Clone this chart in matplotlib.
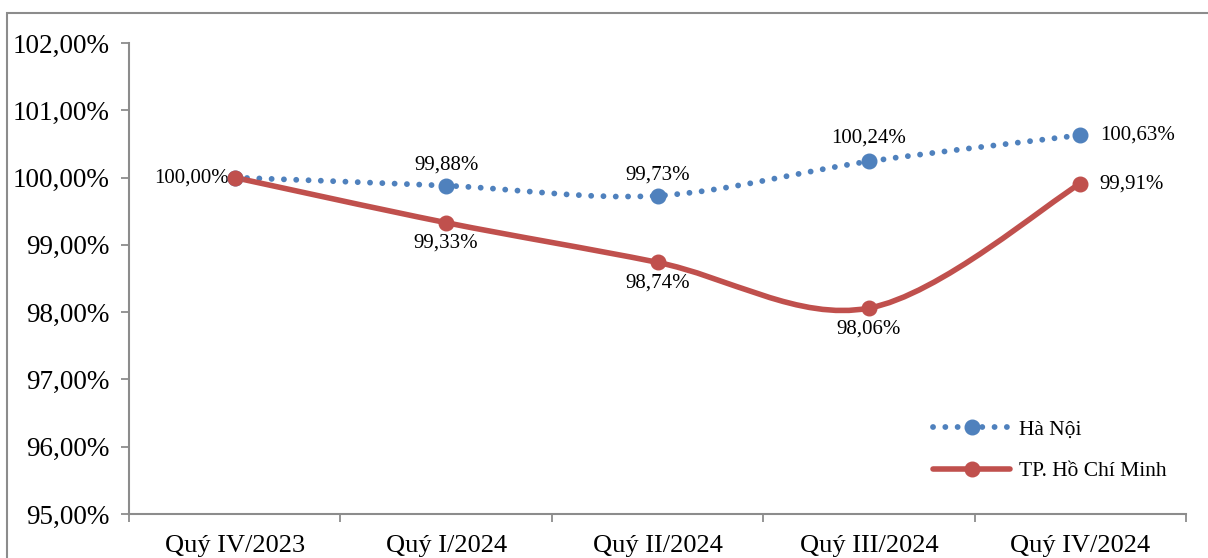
import matplotlib
matplotlib.use('Agg')
import matplotlib.pyplot as plt
from matplotlib.path import Path
from matplotlib.patches import PathPatch, Rectangle
from matplotlib.lines import Line2D
import numpy as np

categories = ['Quý IV/2023', 'Quý I/2024', 'Quý II/2024', 'Quý III/2024', 'Quý IV/2024']
ha_noi = [100.00, 99.88, 99.73, 100.24, 100.63]
hcm = [100.00, 99.33, 98.74, 98.06, 99.91]
yticks = [95, 96, 97, 98, 99, 100, 101, 102]

BLUE = '#4F81BD'
RED = '#C0504D'
GRAY = '#8c8c8c'

plt.rcParams['font.family'] = ['Liberation Serif', 'DejaVu Serif']


def fmt(v):
    return '{:.2f}%'.format(v).replace('.', ',')


def smooth_path(xs, ys):
    # bezier through the points, like Excel's smoothed line
    pts = np.column_stack([xs, ys]).astype(float)
    n = len(pts)
    verts = [pts[0]]
    codes = [Path.MOVETO]
    for i in range(n - 1):
        p0 = pts[max(i - 1, 0)]
        p1 = pts[i]
        p2 = pts[i + 1]
        p3 = pts[min(i + 2, n - 1)]
        c1 = p1 + (p2 - p0) / 6.0
        c2 = p2 - (p3 - p1) / 6.0
        verts += [c1, c2, p2]
        codes += [Path.CURVE4] * 3
    return Path(verts, codes)


fig = plt.figure(figsize=(12.08, 5.58), dpi=100)
ax = fig.add_axes([129 / 1208, 44 / 558, (1186 - 129) / 1208, (514 - 43) / 558])

x = np.arange(len(categories))
dots = (0, (0.01, 2.1))

ax.add_patch(PathPatch(smooth_path(x, hcm), fill=False, edgecolor=RED, lw=4,
                       capstyle='round', joinstyle='round', zorder=3))
ax.add_patch(PathPatch(smooth_path(x, ha_noi), fill=False, edgecolor=BLUE, lw=4.2,
                       linestyle=dots, capstyle='round', zorder=2))
ax.plot(x, ha_noi, 'o', color=BLUE, ms=10.5, zorder=4)
ax.plot(x, hcm, 'o', color=RED, ms=10.5, zorder=5)

# data labels
lsize = 15
above = [0, 8, 8, 10, 0]
for i, v in enumerate(ha_noi):
    if i == 0:
        ax.annotate(fmt(v), (x[i], v), xytext=(-4, 0), textcoords='offset points',
                    ha='right', va='center', fontsize=lsize)
    elif i == len(ha_noi) - 1:
        ax.annotate(fmt(v), (x[i], v), xytext=(14, 0), textcoords='offset points',
                    ha='left', va='center', fontsize=lsize)
    else:
        ax.annotate(fmt(v), (x[i], v), xytext=(0, above[i]), textcoords='offset points',
                    ha='center', va='bottom', fontsize=lsize)
for i, v in enumerate(hcm):
    if i == 0:
        continue
    if i == len(hcm) - 1:
        ax.annotate(fmt(v), (x[i], v), xytext=(14, 0), textcoords='offset points',
                    ha='left', va='center', fontsize=lsize)
    else:
        ax.annotate(fmt(v), (x[i], v), xytext=(0, -8), textcoords='offset points',
                    ha='center', va='top', fontsize=lsize)

ax.set_xlim(-0.5, len(categories) - 0.5)
ax.set_ylim(95, 102)
ax.set_yticks(yticks)
ax.set_yticklabels([fmt(v) for v in yticks], fontsize=19.5)
ax.set_xticks(x)
ax.set_xticklabels(categories, fontsize=19)
ax.set_xticks(np.arange(-0.5, len(categories)), minor=True)
ax.tick_params(axis='x', which='major', length=0, pad=15)
ax.tick_params(axis='x', which='minor', length=6, width=1.3, color=GRAY)
ax.tick_params(axis='y', length=6, width=1.3, color=GRAY, pad=8)

for s in ['top', 'right']:
    ax.spines[s].set_visible(False)
for s in ['left', 'bottom']:
    ax.spines[s].set_color(GRAY)
    ax.spines[s].set_linewidth(1.5)

handles = [
    Line2D([], [], color=BLUE, lw=4.2, linestyle=dots, dash_capstyle='round',
           marker='o', ms=10.5),
    Line2D([], [], color=RED, lw=4, solid_capstyle='round', marker='o', ms=10.5),
]
ax.legend(handles, ['Hà Nội', 'TP. Hồ Chí Minh'], loc='lower right',
          bbox_to_anchor=(1.0, 0.028), frameon=False, fontsize=15.5, numpoints=1,
          handlelength=3.6, labelspacing=1.0, handletextpad=0.4)

# outer chart border
fig.patches.append(Rectangle((7 / 1208, -0.1), 1.2, 1 - 13 / 558 + 0.1,
                             transform=fig.transFigure, fill=False,
                             edgecolor=GRAY, lw=1.5))

fig.savefig('out.png', dpi=100)
